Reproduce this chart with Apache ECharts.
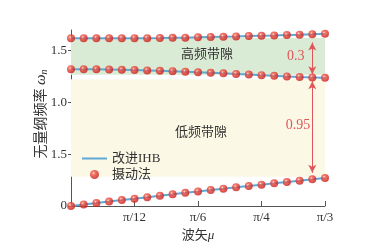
<!DOCTYPE html>
<html><head><meta charset="utf-8">
<script src="https://cdn.jsdelivr.net/npm/echarts@6/dist/echarts.min.js"></script>
<style>html,body{margin:0;padding:0;background:#fff}#c{width:367px;height:247px}</style>
</head><body><div id="c"></div>
<script>
// wave vector μ in degrees (0 … π/3)
const muDeg = [0,3,6,9,12,15,18,21,24,27,30,33,36,39,42,45,48,51,54,57,60];
const xTickValues = [15,30,45,60];
const xTickLabels = ['π/12','π/6','π/4','π/3'];
const yTickValues = [0,0.5,1,1.5];
const yTickLabels = ['0','1.5','1.0','1.5'];
const upperBranch = [1.620,1.620,1.620,1.620,1.620,1.620,1.621,1.622,1.624,1.626,1.629,1.632,1.635,1.638,1.642,1.645,1.648,1.652,1.655,1.659,1.663];
const middleBranch = [1.322,1.321,1.320,1.318,1.316,1.313,1.310,1.306,1.302,1.297,1.292,1.287,1.282,1.276,1.270,1.264,1.258,1.252,1.246,1.242,1.238];
const lowerBranch = [0,0.015,0.029,0.043,0.057,0.071,0.085,0.099,0.113,0.127,0.140,0.154,0.167,0.180,0.193,0.206,0.219,0.232,0.245,0.258,0.271];
const highGapBand = [1.267,1.622];
const lowGapBand = [0.283,1.225];
const highGapArrow = [57,1.58,1.272];
const lowGapArrow = [57,1.205,0.32];
const gapValues = ['0.3','0.95'];
const bandNames = ['高频带隙','低频带隙'];
const bandLabelPos = [[32.1,1.46],[30.7,0.709]];
const gapLabelPos = [[53.1,1.441],[53.6,0.783]];

const serif = '"Liberation Serif","DejaVu Serif","Noto Sans CJK SC",serif';
const lineColor = '#5fa8d6';
const arrowColor = '#e0555a';
const markerStyle = {
  color: {type:'radial', x:0.38, y:0.35, r:0.62, colorStops:[
    {offset:0,color:'#fff2ee'},{offset:0.22,color:'#f26656'},{offset:0.6,color:'#e23a30'},{offset:1,color:'#c8201c'}]},
  borderWidth:0
};
const pair = (ys) => muDeg.map((x,i)=>[x,ys[i]]);
const branches = [upperBranch, middleBranch, lowerBranch];

const series = [];
branches.forEach((b,k)=>{
  series.push({name:'改进IHB', type:'line', data:pair(b), symbol:'none',
    lineStyle:{color:lineColor,width:2}, itemStyle:{color:lineColor}, z:3,
    markArea: k===0 ? {silent:true, data:[
      [{coord:[muDeg[0],highGapBand[0]],itemStyle:{color:'#d9ebd5'}},{coord:[muDeg[muDeg.length-1],highGapBand[1]]}],
      [{coord:[muDeg[0],lowGapBand[0]],itemStyle:{color:'#fbf8e6'}},{coord:[muDeg[muDeg.length-1],lowGapBand[1]]}]
    ]} : undefined,
    markLine: k===0 ? {silent:true, symbol:['arrow','arrow'], symbolSize:[6,8],
      lineStyle:{color:arrowColor,width:1,type:'solid'}, label:{show:false},
      data:[
        [{coord:[highGapArrow[0],highGapArrow[1]]},{coord:[highGapArrow[0],highGapArrow[2]]}],
        [{coord:[lowGapArrow[0],lowGapArrow[1]]},{coord:[lowGapArrow[0],lowGapArrow[2]]}]
      ]} : undefined,
    markPoint: k===0 ? {silent:true, symbol:'circle', symbolSize:0,
      data:[
        {coord:bandLabelPos[0], label:{show:true,position:'inside',formatter:bandNames[0],color:'#333',fontSize:13,fontFamily:serif}},
        {coord:bandLabelPos[1], label:{show:true,position:'inside',formatter:bandNames[1],color:'#333',fontSize:13,fontFamily:serif}},
        {coord:gapLabelPos[0], label:{show:true,position:'inside',formatter:gapValues[0],color:arrowColor,fontSize:14,fontFamily:serif}},
        {coord:gapLabelPos[1], label:{show:true,position:'inside',formatter:gapValues[1],color:arrowColor,fontSize:14,fontFamily:serif}}
      ]} : undefined
  });
});
branches.forEach(b=>{
  series.push({name:'摄动法', type:'scatter', data:pair(b), symbol:'circle', symbolSize:8,
    itemStyle:markerStyle, z:4});
});

const chart = echarts.init(document.getElementById('c'), null, {renderer:'canvas'});
chart.setOption({
  backgroundColor:'#ffffff',
  animation:false,
  grid:{left:71,right:42,top:30,bottom:41,containLabel:false},
  legend:{data:[{name:'改进IHB', itemStyle:{opacity:0}},{name:'摄动法'}], orient:'vertical', left:76, top:147,
    itemWidth:25, itemHeight:9, itemGap:3,
    textStyle:{fontFamily:serif,fontSize:13,color:'#333'}},
  graphic:[{type:'text', x:41, y:114, rotation:Math.PI/2, silent:true,
    style:{text:'无量纲频率 {i|ω}{s|n}', x:0, y:0, align:'center', verticalAlign:'middle',
      fontFamily:serif, fontSize:14, fill:'#333',
      rich:{i:{fontStyle:'italic',fontFamily:serif,fontSize:15,fill:'#333'},
            s:{fontStyle:'italic',fontFamily:serif,fontSize:10,fill:'#333',verticalAlign:'bottom',padding:[6,0,0,0]}}}}],
  xAxis:{type:'value', min:0, max:60, interval:15,
    name:'波矢{i|μ}', nameLocation:'middle', nameGap:22,
    nameTextStyle:{fontFamily:serif,fontSize:13,color:'#333',
      rich:{i:{fontStyle:'italic',fontFamily:serif,fontSize:13,color:'#333'}}},
    axisLine:{lineStyle:{color:'#555',width:1}},
    axisTick:{show:true,inside:true,length:5,customValues:xTickValues,lineStyle:{color:'#555'}},
    axisLabel:{customValues:xTickValues, formatter:v=>xTickLabels[xTickValues.indexOf(v)]||'',
      fontFamily:serif,fontSize:13,color:'#333',margin:5},
    splitLine:{show:false}},
  yAxis:{type:'value', min:0, max:1.7, interval:0.5,
    axisLine:{show:true,lineStyle:{color:'#555',width:1}},
    axisTick:{show:true,inside:false,length:3,customValues:yTickValues,lineStyle:{color:'#555'}},
    axisLabel:{customValues:yTickValues, formatter:v=>{const i=yTickValues.findIndex(t=>Math.abs(t-v)<1e-9);return i>=0?yTickLabels[i]:'';},
      fontFamily:serif,fontSize:13,color:'#333',margin:4},
    splitLine:{show:false}},
  series:series
});
</script></body></html>
